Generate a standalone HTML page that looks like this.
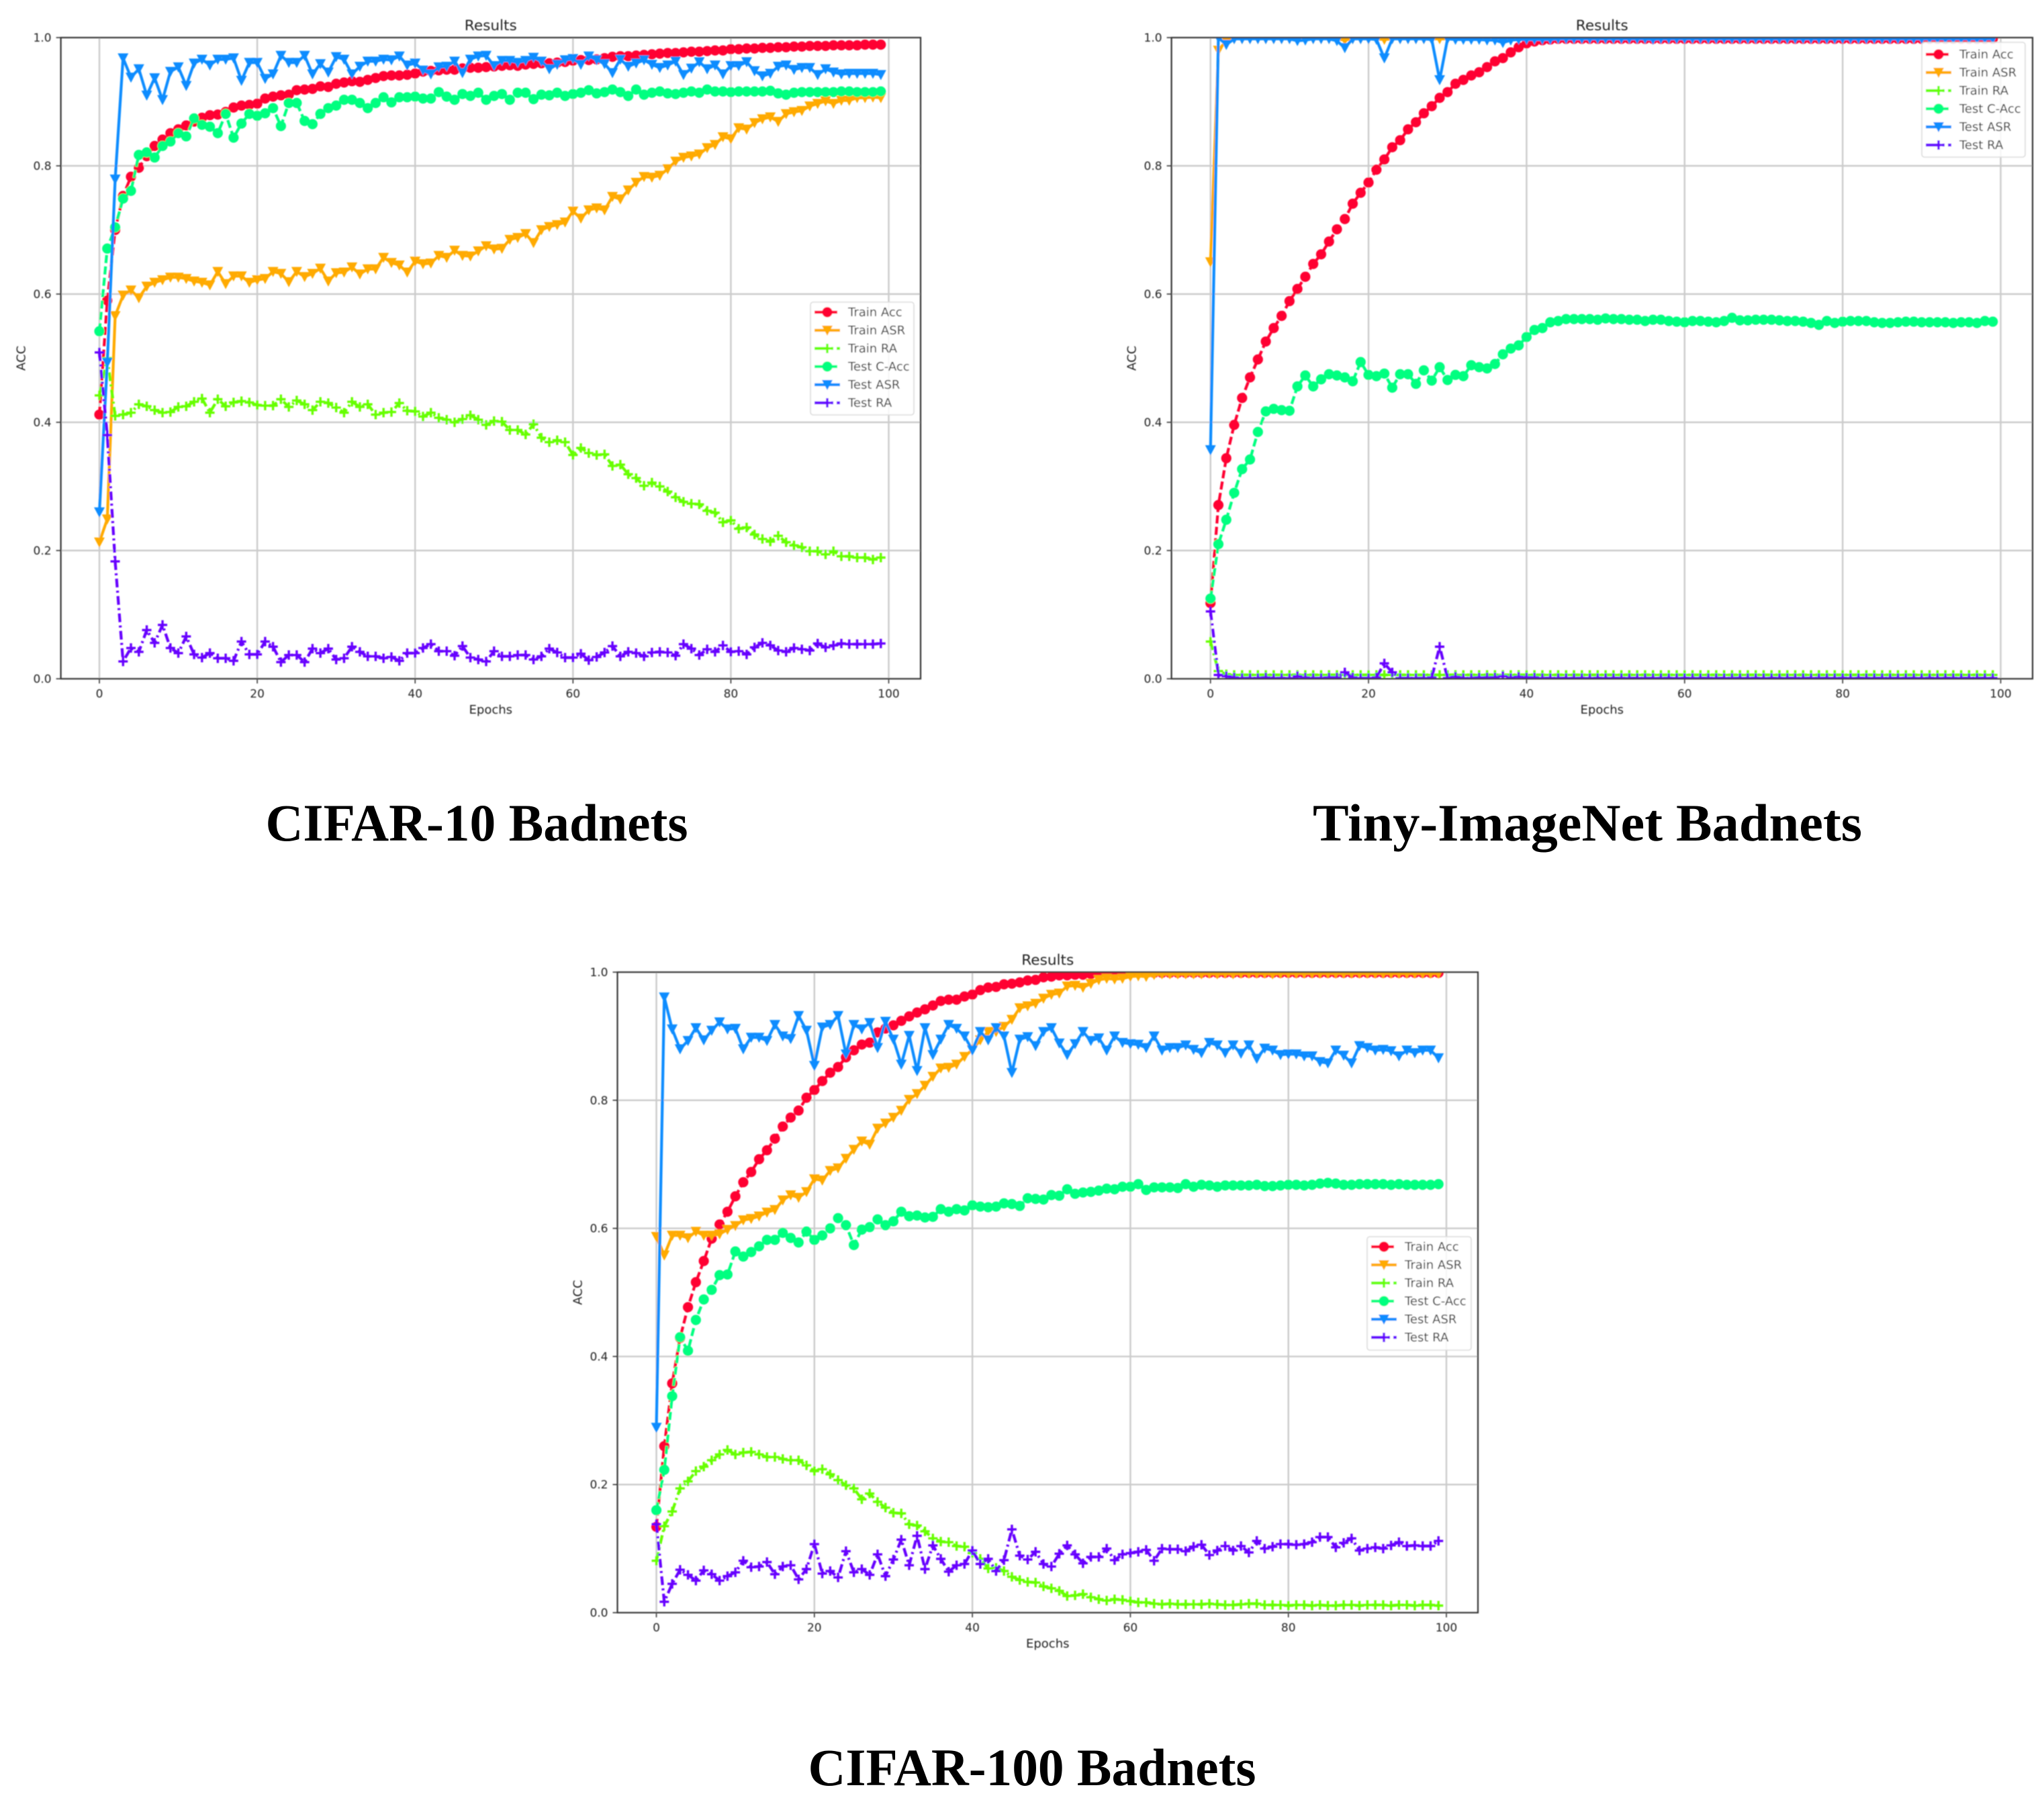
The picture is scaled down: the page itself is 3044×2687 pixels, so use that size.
<!DOCTYPE html>
<html lang="en">
<head>
<meta charset="utf-8">
<title>Badnets Results</title>
<style>
html,body{margin:0;padding:0;background:#fff}
svg{display:block}
text{font-family:"DejaVu Sans","Liberation Sans",sans-serif;fill:#222}
.caption{font-family:"Liberation Serif",serif;font-weight:700;font-size:78px;fill:#000}
</style>
</head>
<body>
<svg id="root" xmlns="http://www.w3.org/2000/svg" width="3044" height="2687" viewBox="0 0 3044 2687">
<defs>
<filter id="soft" filterUnits="userSpaceOnUse" x="0" y="0" width="3044" height="2687"><feGaussianBlur stdDeviation="0.9"/></filter>
</defs>
<rect width="3044" height="2687" fill="#fff"/>
<g id="charts" filter="url(#soft)"></g>
<text class="caption" x="710" y="1252" text-anchor="middle" textLength="629" lengthAdjust="spacingAndGlyphs">CIFAR-10 Badnets</text>
<text class="caption" x="2364" y="1252" text-anchor="middle" textLength="818" lengthAdjust="spacingAndGlyphs">Tiny-ImageNet Badnets</text>
<text class="caption" x="1537" y="2659" text-anchor="middle" textLength="667" lengthAdjust="spacingAndGlyphs">CIFAR-100 Badnets</text>
</svg>
<script>
const xTickLabels=[0,20,40,60,80,100];
const yTickLabels=["0.0","0.2","0.4","0.6","0.8","1.0"];
const seriesNames=["Train Acc","Train ASR","Train RA","Test C-Acc","Test ASR","Test RA"];

const c1TrainAcc=[.412,.59,.70,.753,.783,.797,.815,.831,.841,.851,
.857,.863,.869,.875,.879,.88,.884,.891,.894,.895,
.897,.905,.908,.91,.911,.918,.919,.92,.924,.923,
.928,.93,.932,.931,.934,.937,.94,.941,.941,.942,
.944,.947,.948,.949,.95,.95,.952,.953,.953,.954,
.955,.956,.957,.956,.958,.959,.96,.96,.961,.962,
.964,.965,.965,.966,.968,.97,.971,.971,.972,.973,
.974,.975,.976,.976,.977,.978,.978,.979,.98,.98,
.982,.982,.983,.983,.984,.984,.985,.985,.986,.986,
.987,.987,.987,.988,.988,.988,.988,.989,.989,.989];
const c1TrainAsr=[.213,.249,.566,.598,.606,.594,.612,.618,.622,.626,
.626,.624,.62,.618,.614,.635,.616,.628,.628,.618,
.622,.624,.635,.632,.619,.635,.627,.632,.64,.62,
.633,.634,.642,.631,.639,.639,.657,.649,.645,.634,
.651,.647,.648,.66,.657,.668,.66,.659,.667,.675,
.67,.671,.685,.688,.694,.68,.7,.705,.708,.712,
.729,.718,.731,.734,.731,.752,.748,.762,.774,.783,
.782,.785,.795,.807,.813,.815,.818,.828,.833,.845,
.842,.859,.857,.867,.873,.876,.869,.881,.884,.886,
.893,.897,.901,.897,.902,.902,.906,.906,.907,.906];
const c1TrainRa=[.442,.50,.41,.412,.415,.428,.425,.419,.415,.416,
.424,.425,.432,.437,.415,.436,.425,.431,.433,.431,
.427,.426,.426,.436,.424,.434,.428,.419,.432,.43,
.423,.415,.432,.424,.428,.412,.415,.416,.43,.418,
.417,.409,.415,.407,.404,.4,.405,.411,.404,.396,
.402,.401,.388,.388,.381,.397,.376,.369,.372,.369,
.349,.36,.352,.349,.35,.332,.334,.319,.313,.301,
.306,.3,.292,.283,.276,.273,.272,.262,.259,.244,
.247,.234,.236,.225,.218,.214,.223,.213,.208,.205,
.199,.199,.194,.199,.191,.191,.189,.189,.186,.189];
const c1TestAcc=[.542,.671,.704,.749,.761,.817,.821,.813,.831,.838,
.851,.846,.874,.864,.861,.851,.881,.844,.866,.881,
.878,.882,.89,.862,.898,.898,.87,.865,.881,.89,
.894,.903,.903,.898,.89,.898,.907,.899,.907,.907,
.908,.905,.905,.915,.908,.903,.912,.909,.914,.903,
.909,.912,.903,.914,.914,.904,.911,.91,.914,.909,
.912,.914,.918,.913,.915,.919,.915,.909,.919,.911,
.914,.916,.913,.912,.914,.916,.914,.919,.916,.916,
.915,.916,.916,.916,.916,.917,.913,.911,.914,.915,
.915,.915,.915,.915,.916,.916,.915,.915,.915,.916];
const c1TestAsr=[.26,.493,.779,.968,.938,.951,.91,.937,.903,.947,
.954,.925,.96,.966,.957,.966,.966,.968,.933,.961,
.961,.936,.943,.972,.961,.961,.972,.943,.959,.946,
.97,.966,.943,.955,.963,.963,.966,.965,.971,.957,
.96,.949,.943,.954,.955,.963,.945,.966,.971,.972,
.956,.964,.964,.961,.964,.969,.963,.951,.958,.965,
.967,.958,.971,.965,.959,.945,.966,.955,.96,.965,
.958,.953,.957,.963,.942,.952,.962,.951,.957,.943,
.956,.956,.962,.948,.94,.944,.955,.957,.95,.953,
.953,.942,.951,.946,.943,.944,.944,.944,.944,.942];
const c1TestRa=[.509,.38,.183,.027,.048,.042,.076,.056,.084,.048,
.04,.066,.038,.033,.04,.032,.032,.028,.058,.038,
.038,.058,.05,.026,.037,.037,.026,.047,.04,.047,
.03,.032,.05,.042,.035,.035,.032,.034,.028,.04,
.04,.048,.054,.043,.043,.036,.051,.033,.03,.027,
.043,.035,.035,.037,.037,.03,.035,.047,.041,.033,
.033,.039,.029,.034,.041,.051,.035,.042,.04,.035,
.041,.042,.041,.036,.054,.047,.037,.046,.042,.052,
.042,.043,.038,.049,.056,.052,.044,.042,.048,.046,
.044,.055,.049,.052,.055,.054,.054,.054,.054,.055];

const c2TrainAcc=[.118,.271,.344,.396,.438,.47,.498,.526,.547,.566,
.589,.608,.627,.647,.662,.682,.701,.717,.741,.758,
.774,.794,.81,.829,.84,.857,.868,.882,.893,.906,
.915,.928,.934,.941,.946,.954,.963,.968,.977,.985,
.991,.994,.996,.997,.998,.998,.998,.998,.998,.998,
.998,.998,.998,.998,.998,.998,.998,.998,.998,.998,
.998,.998,.998,.998,.998,.998,.998,.998,.998,.998,
.998,.998,.998,.998,.998,.998,.998,.998,.998,.998,
.998,.998,.998,.998,.998,.998,.998,.998,.998,.998,
.998,.998,.998,.998,.998,.998,.998,.998,.998,.998];
const c2TrainAsr=[.65,.98,.995,.998,.998,.998,.998,.998,.998,.998,
.998,.998,.998,.998,.998,.998,.998,.996,.998,.998,
.998,.998,.997,.998,.998,.998,.998,.998,.998,.998,
.998,.998,.998,.998,.998,.998,.998,.997,.998,.998,
.998,.998,.998,.998,.998,.998,.998,.998,.998,.998,
.998,.998,.998,.998,.998,.998,.998,.998,.998,.998,
.998,.998,.998,.998,.998,.998,.998,.998,.998,.998,
.998,.998,.998,.998,.998,.998,.998,.998,.998,.998,
.998,.998,.998,.998,.998,.998,.998,.998,.998,.998,
.998,.998,.998,.998,.998,.998,.998,.998,.998,.998];
const c2TrainRa=[.058,.012,.007,.006,.006,.006,.006,.006,.006,.006,
.006,.006,.006,.006,.006,.006,.006,.006,.006,.006,
.006,.006,.006,.006,.006,.006,.006,.006,.006,.006,
.006,.006,.006,.006,.006,.006,.006,.006,.006,.006,
.006,.006,.006,.006,.006,.006,.006,.006,.006,.006,
.006,.006,.006,.006,.006,.006,.006,.006,.006,.006,
.006,.006,.006,.006,.006,.006,.006,.006,.006,.006,
.006,.006,.006,.006,.006,.006,.006,.006,.006,.006,
.006,.006,.006,.006,.006,.006,.006,.006,.006,.006,
.006,.006,.006,.006,.006,.006,.006,.006,.006,.006];
const c2TestAcc=[.125,.21,.248,.29,.327,.342,.385,.417,.421,.419,
.418,.456,.473,.456,.467,.475,.473,.47,.464,.494,
.474,.472,.476,.454,.475,.475,.46,.481,.465,.486,
.466,.474,.472,.489,.486,.484,.491,.506,.515,.52,
.533,.544,.547,.556,.558,.561,.561,.561,.561,.56,
.562,.561,.561,.56,.56,.558,.56,.56,.558,.557,
.556,.558,.558,.557,.556,.558,.563,.559,.559,.56,
.56,.56,.559,.558,.558,.557,.555,.552,.558,.555,
.557,.558,.558,.558,.556,.555,.555,.556,.557,.557,
.556,.556,.556,.556,.555,.556,.556,.555,.558,.557];
const c2TestAsr=[.357,1,.989,.998,.998,.998,.998,.998,.998,.998,
.998,.995,.996,.998,.998,.998,.995,.984,.998,.998,
.998,.997,.968,.998,.998,.998,.998,.998,.997,.934,
.998,.997,.997,.997,.997,.996,.996,.992,.996,.997,
.997,.997,.997,.997,.998,.998,.998,.998,.998,.998,
.998,.998,.998,.998,.998,.998,.997,.998,.998,.998,
.998,.998,.998,.998,.998,.998,.998,.998,.998,.998,
.998,.998,.998,.998,.998,.998,.998,.998,.998,.998,
.998,.998,.998,.998,.998,.998,.998,.998,.998,.998,
.998,.998,.998,.998,.998,.998,.998,.998,.998,.998];
const c2TestRa=[.105,.006,.004,.002,.001,.001,.001,.002,.001,.001,
.001,.004,.002,.001,.001,.002,.002,.01,.002,.001,
.001,.002,.024,.01,.001,.001,.001,.001,.002,.05,
.001,.003,.001,.001,.002,.002,.002,.004,.001,.003,
.002,.002,.001,.001,.001,.001,.001,.001,.001,.001,
.001,.001,.001,.001,.001,.001,.001,.001,.001,.001,
.001,.001,.001,.001,.001,.001,.001,.001,.001,.001,
.001,.001,.001,.001,.001,.001,.001,.001,.001,.001,
.001,.001,.001,.001,.001,.001,.001,.001,.001,.001,
.001,.001,.001,.001,.001,.001,.001,.001,.001,.001];

const c3TrainAcc=[.134,.26,.358,.429,.477,.516,.549,.584,.606,.626,
.65,.672,.688,.708,.722,.74,.759,.773,.784,.804,
.816,.83,.843,.852,.867,.878,.887,.89,.906,.912,
.917,.924,.931,.937,.942,.948,.955,.957,.957,.962,
.965,.972,.976,.977,.981,.982,.984,.987,.988,.992,
.993,.995,.995,.996,.996,.997,.998,.998,.998,.999,
.999,.999,.999,.999,.999,.999,.999,.999,.999,.999,
.999,.999,.999,.999,.999,.999,.999,.999,.999,.999,
.999,.999,.999,.999,.999,.999,.999,.999,.999,.999,
.999,.999,.999,.999,.999,.999,.999,.999,.999,.999];
const c3TrainAsr=[.587,.558,.589,.589,.585,.595,.589,.589,.591,.598,
.604,.613,.615,.619,.625,.629,.644,.652,.648,.657,
.677,.675,.69,.694,.709,.723,.736,.731,.756,.764,
.773,.784,.801,.81,.823,.837,.85,.851,.856,.868,
.879,.894,.907,.907,.915,.926,.944,.947,.951,.959,
.965,.967,.978,.979,.976,.982,.988,.99,.989,.99,
.993,.994,.993,.996,.997,.997,.997,.997,.997,.997,
.998,.997,.998,.997,.998,.998,.998,.998,.997,.998,
.998,.998,.998,.998,.998,.998,.998,.998,.998,.998,
.998,.998,.998,.998,.998,.998,.998,.998,.998,.998];
const c3TrainRa=[.081,.135,.158,.194,.205,.221,.228,.238,.247,.254,
.247,.25,.251,.247,.243,.243,.24,.238,.238,.23,
.221,.224,.216,.207,.199,.194,.177,.186,.173,.164,
.156,.155,.138,.136,.127,.116,.111,.11,.104,.103,
.093,.084,.069,.07,.065,.056,.051,.048,.047,.041,
.038,.034,.026,.027,.029,.024,.021,.019,.021,.02,
.018,.016,.016,.014,.013,.014,.013,.013,.013,.013,
.014,.013,.012,.012,.013,.014,.014,.012,.012,.012,
.011,.012,.012,.011,.012,.011,.011,.012,.012,.011,
.012,.012,.012,.011,.012,.012,.011,.012,.012,.011];
const c3TestAcc=[.16,.223,.338,.43,.409,.457,.489,.504,.527,.528,
.564,.556,.563,.572,.582,.582,.593,.585,.578,.595,
.582,.589,.6,.616,.605,.574,.598,.602,.614,.605,
.611,.626,.619,.62,.617,.618,.63,.626,.63,.628,
.636,.634,.633,.634,.639,.638,.635,.647,.646,.645,
.652,.651,.661,.654,.656,.657,.659,.662,.661,.665,
.665,.669,.66,.664,.664,.664,.663,.669,.665,.668,
.667,.665,.667,.667,.667,.667,.668,.666,.666,.667,
.668,.668,.667,.668,.67,.671,.67,.668,.668,.669,
.669,.669,.669,.668,.669,.668,.668,.668,.668,.669];
const c3TestAsr=[.289,.961,.911,.88,.893,.913,.894,.909,.922,.911,
.912,.88,.898,.898,.893,.918,.9,.896,.932,.909,
.854,.914,.918,.932,.872,.918,.911,.921,.882,.923,
.895,.856,.901,.846,.913,.871,.895,.918,.912,.9,
.878,.907,.894,.913,.9,.843,.895,.899,.885,.907,
.913,.889,.871,.888,.907,.893,.897,.878,.9,.89,
.888,.887,.882,.9,.878,.882,.882,.886,.879,.874,
.89,.886,.874,.886,.873,.886,.865,.881,.878,.871,
.872,.872,.869,.869,.86,.858,.878,.87,.858,.885,
.882,.878,.879,.877,.869,.878,.874,.878,.878,.866];
const c3TestRa=[.138,.017,.045,.067,.059,.05,.066,.06,.05,.057,
.063,.081,.071,.072,.079,.06,.072,.074,.052,.068,
.107,.061,.065,.055,.096,.063,.068,.059,.091,.057,
.083,.114,.074,.12,.068,.105,.084,.064,.074,.076,
.097,.076,.084,.065,.082,.13,.089,.083,.095,.076,
.072,.092,.105,.091,.077,.087,.087,.1,.082,.091,
.093,.095,.098,.081,.1,.099,.099,.096,.103,.106,
.09,.097,.104,.097,.104,.094,.112,.1,.103,.107,
.107,.106,.107,.11,.118,.118,.102,.109,.116,.097,
.1,.102,.1,.105,.11,.104,.105,.104,.104,.112];

const NS="http://www.w3.org/2000/svg";
const lineColors=["#ff0033","#ffaa00","#66ff00","#00ff80","#0a8cff","#6600ff"];
const lineDash=["12 5","","13 5 3 5","12 5","","13 5 3 5"];
const markerKinds=["circle","tri","plus","circle","tri","plus"];
const panels=[
 {key:"cifar10",left:90.6,right:1371,top:56,bottom:1011,x0:148,x100:1323.5,lx:1207,lr:1361,ly:450,lb:618,row:465,series:[c1TrainAcc,c1TrainAsr,c1TrainRa,c1TestAcc,c1TestAsr,c1TestRa]},
 {key:"tiny-imagenet",left:1744.6,right:3027,top:56,bottom:1011,x0:1802.7,x100:2979.5,lx:2862,lr:3016,ly:63,lb:234,row:81,series:[c2TrainAcc,c2TrainAsr,c2TrainRa,c2TestAcc,c2TestAsr,c2TestRa]},
 {key:"cifar100",left:919.5,right:2201,top:1448,bottom:2402,x0:977.5,x100:2154,lx:2036,lr:2191,ly:1842,lb:2011,row:1857,series:[c3TrainAcc,c3TrainAsr,c3TrainRa,c3TestAcc,c3TestAsr,c3TestRa]}
];
function mk(tag,parent){const el=document.createElementNS(NS,tag);parent.appendChild(el);return el;}
function setA(el,o){for(const k in o)el.setAttribute(k,o[k]);return el;}
function drawMarker(parent,kind,cx,cy,color){
 let m;
 if(kind==="circle"){m=mk("circle",parent);setA(m,{cx:cx,cy:cy,r:7.6,fill:color});}
 else if(kind==="tri"){m=mk("polygon",parent);setA(m,{points:(cx-8)+","+(cy-7)+" "+(cx+8)+","+(cy-7)+" "+cx+","+(cy+8),fill:color});}
 else{m=mk("path",parent);setA(m,{d:"M"+(cx-7)+" "+cy+"H"+(cx+7)+"M"+cx+" "+(cy-7)+"V"+(cy+7),stroke:color,"stroke-width":3.4,fill:"none"});}
 
 
}
const host=document.getElementById("charts");
const rootDefs=document.querySelector("defs");
panels.forEach(function(p){
 const xScale=function(e){return p.x0+e*(p.x100-p.x0)/100;};
 const yScale=function(v){return p.bottom-v*(p.bottom-p.top);};
 const g=mk("g",host);
 
 
 const clip=mk("clipPath",rootDefs);
 clip.setAttribute("id","clip-"+p.key);
 setA(mk("rect",clip),{x:p.left,y:p.top,width:p.right-p.left,height:p.bottom-p.top});
 xTickLabels.forEach(function(t){
  const x=xScale(t);
  const gl=mk("line",g);
  setA(gl,{x1:x,x2:x,y1:p.top,y2:p.bottom,stroke:"#cbcbcb","stroke-width":2.4});
  
  
  const tk=mk("line",g);
  setA(tk,{x1:x,x2:x,y1:p.bottom,y2:p.bottom+7,stroke:"#333","stroke-width":1.6});
  
  
  const lb=mk("text",g);
  setA(lb,{x:x,y:p.bottom+28,"text-anchor":"middle","font-size":17});
  
  
  lb.textContent=t;
 });
 yTickLabels.forEach(function(t){
  const y=yScale(parseFloat(t));
  const gl=mk("line",g);
  setA(gl,{x1:p.left,x2:p.right,y1:y,y2:y,stroke:"#cbcbcb","stroke-width":2.4});
  
  
  const tk=mk("line",g);
  setA(tk,{x1:p.left-7,x2:p.left,y1:y,y2:y,stroke:"#333","stroke-width":1.6});
  
  
  const lb=mk("text",g);
  setA(lb,{x:p.left-14,y:y+6,"text-anchor":"end","font-size":17});
  
  
  lb.textContent=t;
 });
 const plot=mk("g",g);
 plot.setAttribute("clip-path","url(#clip-"+p.key+")");
 
 
 p.series.forEach(function(vals,i){
  const sg=mk("g",plot);
  
  
  const pl=mk("polyline",sg);
  setA(pl,{points:vals.map(function(v,e){return xScale(e)+","+yScale(v);}).join(" "),fill:"none",stroke:lineColors[i],"stroke-width":4.2,"stroke-linejoin":"round"});
  if(lineDash[i])pl.setAttribute("stroke-dasharray",lineDash[i]);
  
  
  vals.forEach(function(v,e){drawMarker(sg,markerKinds[i],xScale(e),yScale(v),lineColors[i]);});
 });
 const frame=mk("rect",g);
 setA(frame,{x:p.left,y:p.top,width:p.right-p.left,height:p.bottom-p.top,fill:"none",stroke:"#333","stroke-width":2.2});
 
 
 const title=mk("text",g);
 setA(title,{x:(p.left+p.right)/2,y:p.top-11,"text-anchor":"middle","font-size":21.6});
 
 
 title.textContent="Results";
 const xt=mk("text",g);
 setA(xt,{x:(p.left+p.right)/2,y:p.bottom+52,"text-anchor":"middle","font-size":18});
 
 
 xt.textContent="Epochs";
 const yt=mk("text",g);
 const cy=(p.top+p.bottom)/2;
 setA(yt,{x:p.left-53,y:cy,"text-anchor":"middle","font-size":18,transform:"rotate(-90 "+(p.left-53)+" "+cy+")"});
 
 
 yt.textContent="ACC";
 const leg=mk("g",g);
 
 
 const box=mk("rect",leg);
 setA(box,{x:p.lx,y:p.ly,width:p.lr-p.lx,height:p.lb-p.ly,rx:4,fill:"#fff","fill-opacity":0.85,stroke:"#dcdcdc","stroke-width":1.6});
 
 
 seriesNames.forEach(function(n,i){
  const ry=p.row+i*27;
  const ln=mk("line",leg);
  setA(ln,{x1:p.lx+6,x2:p.lx+44,y1:ry,y2:ry,stroke:lineColors[i],"stroke-width":4.2});
  if(lineDash[i])ln.setAttribute("stroke-dasharray",lineDash[i].split(" ").length>2?"20 5 3 5":"34 4");
  
  
  drawMarker(leg,markerKinds[i],p.lx+25,ry,lineColors[i]);
  const tx=mk("text",leg);
  setA(tx,{x:p.lx+56,y:ry+6,"font-size":18});
  
  
  tx.textContent=n;
 });
});
</script>
</body>
</html>
